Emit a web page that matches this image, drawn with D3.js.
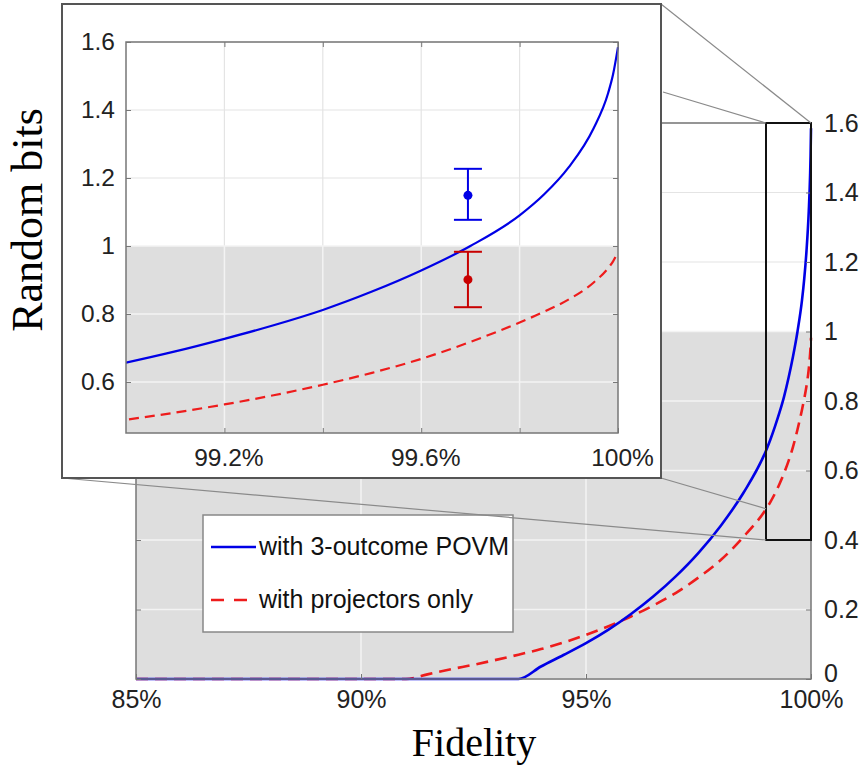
<!DOCTYPE html>
<html>
<head>
<meta charset="utf-8">
<script src="https://cdn.jsdelivr.net/npm/d3@7"></script>
<style>
  body { margin: 0; background: #fff; }
  svg text { font-family: "Liberation Sans", Arial, sans-serif; fill: #222; }
  svg text.title { font-family: "Liberation Serif", "Times New Roman", serif; fill: #000; }
</style>
</head>
<body>
<div id="content"></div>
<script>
// Fidelity grid (in %) shared by both theory curves.
var fidelity = [85, 90, 91, 91.5, 92, 92.5, 93, 93.5, 94, 94.5, 95, 95.5, 96, 96.5,
                97, 97.5, 98, 98.5, 99, 99.1, 99.2, 99.3, 99.4, 99.5, 99.6, 99.7,
                99.8, 99.85, 99.9, 99.95, 99.98, 99.99, 100];

// Random bits with the 3-outcome POVM.
var povmBits = [0, 0, 0, 0, 0, 0, 0, 0, 0.036, 0.069, 0.103, 0.142, 0.187, 0.238,
                0.296, 0.363, 0.442, 0.536, 0.657, 0.69, 0.727, 0.767, 0.812, 0.866,
                0.928, 1.0, 1.09, 1.152, 1.232, 1.345, 1.45, 1.505, 1.585];

// Random bits with projectors only.
var projBits = [0, 0, 0, 0.014, 0.028, 0.041, 0.055, 0.07, 0.086, 0.105, 0.127, 0.152,
                0.18, 0.212, 0.248, 0.292, 0.343, 0.409, 0.489, 0.51, 0.534, 0.561,
                0.592, 0.627, 0.668, 0.718, 0.775, 0.807, 0.843, 0.892, 0.935, 0.955, 0.982];

// Measured points with error bars (shown in the inset).
var measFidelity = [99.695, 99.695];
var measBits = [1.149, 0.901];
var measLow = [1.077, 0.82];
var measHigh = [1.227, 0.983];

var mainXTicks = [85, 90, 95, 100];
var mainYTicks = [0, 0.2, 0.4, 0.6, 0.8, 1, 1.2, 1.4, 1.6];
var insetXTicks = [99.2, 99.4, 99.6, 99.8, 100];
var insetXLabels = [99.2, 99.6, 100];
var insetYTicks = [0.6, 0.8, 1, 1.2, 1.4, 1.6];
var legendLabels = ['with 3-outcome POVM', 'with projectors only'];
var shadeTop = 1; // upper edge of the shaded region

var blue = '#0000e6', red = '#ee1c1c', darkRed = '#c80000';
var shade = '#dedede', gridOnWhite = '#e4e4e4', gridOnShade = '#f3f3f3';
var axisColor = '#777';

var povm = fidelity.map(function(f, i) { return [f, povmBits[i]]; });
var proj = fidelity.map(function(f, i) { return [f, projBits[i]]; });

var svg = d3.select('#content')
              .append('svg')
              .attr('width', 864)
              .attr('height', 770);

// Draws background, shaded band, grid, curves and box for one panel.
function drawPanel(g, x, y, xGrid, yGrid, dash, width, clipId) {
  var x0 = x.range()[0], x1 = x.range()[1];
  var yb = y.range()[0], yt = y.range()[1];
  var ys = y(shadeTop);

  g.append('rect').attr('x', x0).attr('y', yt)
      .attr('width', x1 - x0).attr('height', yb - yt).style('fill', '#fff');

  // grid above the shaded region
  xGrid.forEach(function(v) {
    g.append('line').attr('x1', x(v)).attr('x2', x(v)).attr('y1', yt).attr('y2', ys)
        .style('stroke', gridOnWhite).style('stroke-width', 1.2);
  });
  yGrid.filter(function(v) { return v > shadeTop; }).forEach(function(v) {
    g.append('line').attr('x1', x0).attr('x2', x1).attr('y1', y(v)).attr('y2', y(v))
        .style('stroke', gridOnWhite).style('stroke-width', 1.2);
  });

  g.append('rect').attr('x', x0).attr('y', ys)
      .attr('width', x1 - x0).attr('height', yb - ys).style('fill', shade);

  xGrid.forEach(function(v) {
    g.append('line').attr('x1', x(v)).attr('x2', x(v)).attr('y1', ys).attr('y2', yb)
        .style('stroke', gridOnShade).style('stroke-width', 1.5);
  });
  yGrid.filter(function(v) { return v <= shadeTop; }).forEach(function(v) {
    g.append('line').attr('x1', x0).attr('x2', x1).attr('y1', y(v)).attr('y2', y(v))
        .style('stroke', gridOnShade).style('stroke-width', 1.5);
  });

  svg.append('clipPath').attr('id', clipId)
      .append('rect').attr('x', x0).attr('y', yt - 2)
      .attr('width', x1 - x0 + 2).attr('height', yb - yt + 4);

  var line = d3.line()
                 .x(function(d) { return x(d[0]); })
                 .y(function(d) { return y(d[1]); })
                 .curve(d3.curveMonotoneX);

  var curves = g.append('g').attr('clip-path', 'url(#' + clipId + ')');
  curves.append('path').datum(proj).attr('d', line)
      .style('fill', 'none').style('stroke', red).style('stroke-width', width)
      .style('stroke-dasharray', dash);
  curves.append('path').datum(povm).attr('d', line)
      .style('fill', 'none').style('stroke', blue).style('stroke-width', width);
  return curves;
}

function fmt(v) { return String(+v.toFixed(1)); }

// ---------- main axes ----------
var x = d3.scaleLinear().domain([85, 100]).range([136, 811]);
var y = d3.scaleLinear().domain([0, 1.6]).range([679, 123]);
var main = svg.append('g');
drawPanel(main, x, y, [90, 95], mainYTicks, '12,7', 2.6, 'clipMain');

var yRight = main.append('g').attr('transform', 'translate(811,0)')
    .call(d3.axisRight(y).tickValues(mainYTicks).tickSize(-5).tickPadding(13).tickFormat(fmt));
yRight.selectAll('.tick text').filter(function(d) { return d === 0; }).attr('dy', '0.08em');
main.append('g').attr('transform', 'translate(136,0)')
    .call(d3.axisLeft(y).tickValues(mainYTicks).tickSize(-5).tickFormat(''));
main.append('g').attr('transform', 'translate(0,679)')
    .call(d3.axisBottom(x).tickValues(mainXTicks).tickSize(-5).tickPadding(11)
              .tickFormat(function(d) { return d + '%'; }));
main.selectAll('.domain').remove();
main.selectAll('.tick line').style('stroke', axisColor);
main.selectAll('.tick text').style('font-size', '25px').style('fill', '#222')
    .style('font-family', '"Liberation Sans", Arial, sans-serif');

main.append('rect').attr('x', 136).attr('y', 123).attr('width', 675).attr('height', 556)
    .style('fill', 'none').style('stroke', axisColor).style('stroke-width', 1.5);

// zoom window
main.append('rect').attr('x', x(99)).attr('y', y(1.6))
    .attr('width', x(100) - x(99)).attr('height', y(0.4) - y(1.6))
    .style('fill', 'none').style('stroke', '#111').style('stroke-width', 2);

// legend
var lg = main.append('g');
lg.append('rect').attr('x', 203).attr('y', 515).attr('width', 310).attr('height', 117)
    .style('fill', '#fff').style('stroke', '#888').style('stroke-width', 1.5);
legendLabels.forEach(function(t, i) {
  var ly = 547 + i * 53;
  lg.append('line').attr('x1', 211).attr('x2', i === 0 ? 256 : 247).attr('y1', ly).attr('y2', ly)
      .style('stroke', i === 0 ? blue : red).style('stroke-width', 2.6)
      .style('stroke-dasharray', i === 0 ? null : '13,10');
  lg.append('text').attr('x', 259).attr('y', ly + 8).text(t)
      .style('font-size', '25px').style('fill', '#111');
});

// ---------- connector lines (drawn before the inset box) ----------
var inset = {left: 62, top: 4, right: 661, bottom: 478};
var connectors = [
  [[inset.right, inset.top], [x(100), y(1.6)]],
  [[inset.right + 2, 92], [x(99), y(1.6)]],
  [[inset.right, inset.bottom], [x(99), y(0.49)]],
  [[inset.left, inset.bottom], [x(99), y(0.4)]]
];
connectors.forEach(function(c) {
  svg.append('line').attr('x1', c[0][0]).attr('y1', c[0][1])
      .attr('x2', c[1][0]).attr('y2', c[1][1])
      .style('stroke', '#8a8a8a').style('stroke-width', 1.2);
});

// ---------- inset ----------
var ig = svg.append('g');
ig.append('rect').attr('x', inset.left).attr('y', inset.top)
    .attr('width', inset.right - inset.left).attr('height', inset.bottom - inset.top)
    .style('fill', '#fff').style('stroke', '#555').style('stroke-width', 2);

var xi = d3.scaleLinear().domain([99, 100]).range([126, 618]);
var yi = d3.scaleLinear().domain([0.45, 1.6]).range([433, 42]);
drawPanel(ig, xi, yi, [99.2, 99.4, 99.6, 99.8], insetYTicks, '10,6', 2.2, 'clipInset');

// error bars
var colors = [blue, darkRed];
measFidelity.forEach(function(f, i) {
  var cx = xi(f);
  var eb = ig.append('g').style('stroke', colors[i]).style('stroke-width', 2);
  eb.append('line').attr('x1', cx).attr('x2', cx).attr('y1', yi(measLow[i])).attr('y2', yi(measHigh[i]));
  eb.append('line').attr('x1', cx - 14).attr('x2', cx + 14).attr('y1', yi(measLow[i])).attr('y2', yi(measLow[i]));
  eb.append('line').attr('x1', cx - 14).attr('x2', cx + 14).attr('y1', yi(measHigh[i])).attr('y2', yi(measHigh[i]));
  ig.append('circle').attr('cx', cx).attr('cy', yi(measBits[i])).attr('r', 4.5)
      .style('fill', colors[i]);
});

ig.append('g').attr('transform', 'translate(126,0)')
    .call(d3.axisLeft(yi).tickValues(insetYTicks).tickSize(-5).tickPadding(11).tickFormat(fmt));
ig.append('g').attr('transform', 'translate(618,0)')
    .call(d3.axisRight(yi).tickValues(insetYTicks).tickSize(-5).tickFormat(''));
var xiAxis = ig.append('g').attr('transform', 'translate(0,433)')
    .call(d3.axisBottom(xi).tickValues(insetXTicks).tickSize(-5).tickPadding(16)
              .tickFormat(function(d) { return insetXLabels.indexOf(d) >= 0 ? fmt(d) + '%' : ''; }));
xiAxis.selectAll('.tick text').attr('dx', 4);
ig.append('g').attr('transform', 'translate(0,42)')
    .call(d3.axisTop(xi).tickValues(insetXTicks).tickSize(-5).tickFormat(''));
ig.selectAll('.domain').remove();
ig.selectAll('.tick line').style('stroke', axisColor);
ig.selectAll('.tick text').style('font-size', '24.5px').style('fill', '#222')
    .style('font-family', '"Liberation Sans", Arial, sans-serif');
ig.append('rect').attr('x', 126).attr('y', 42).attr('width', 492).attr('height', 391)
    .style('fill', 'none').style('stroke', axisColor).style('stroke-width', 1.5);

// ---------- axis titles ----------
svg.append('text').attr('class', 'title')
    .attr('transform', 'translate(42,220) rotate(-90)')
    .attr('text-anchor', 'middle').style('font-size', '44px').text('Random bits');
svg.append('text').attr('class', 'title')
    .attr('x', 474).attr('y', 756)
    .attr('text-anchor', 'middle').style('font-size', '40px').text('Fidelity');
</script>
</body>
</html>
